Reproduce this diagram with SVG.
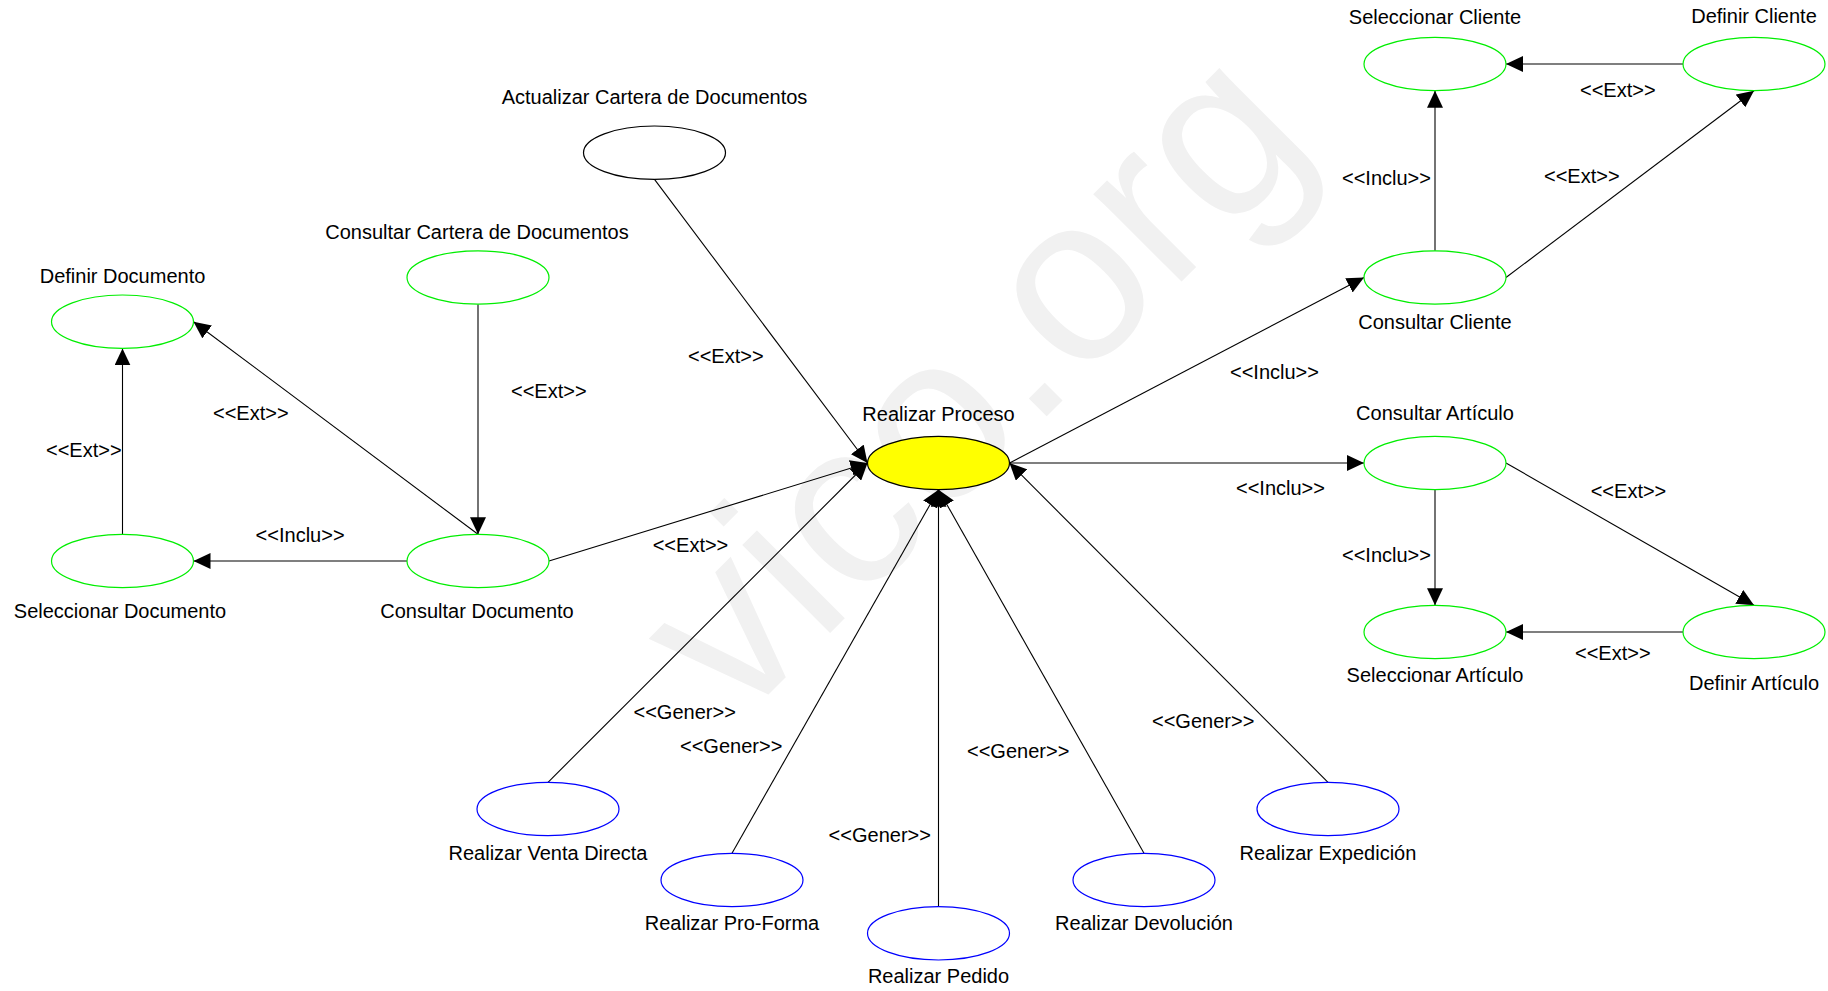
<svg xmlns="http://www.w3.org/2000/svg" width="1828" height="991" viewBox="0 0 1828 991">
<defs>
<marker id="arr" viewBox="0 0 17 16" refX="17" refY="8" markerWidth="17" markerHeight="16" markerUnits="userSpaceOnUse" orient="auto">
<path d="M0,0 L17,8 L0,16 z" fill="#000"/>
</marker>
<style>
text{font-family:"Liberation Sans",Arial,sans-serif;font-size:20px;fill:#000}
.n{text-anchor:middle}
.g{fill:#fff;stroke:#00ee00;stroke-width:1.2}
.b{fill:#fff;stroke:#0000ff;stroke-width:1.2}
.k{fill:#fff;stroke:#000;stroke-width:1.2}
.y{fill:#ffff00;stroke:#000;stroke-width:1.2}
#connectors line{stroke:#000;stroke-width:1.1}
.a{marker-end:url(#arr)}
.wm{font-size:235px;fill:#f1f1f1;font-family:"Liberation Sans",Arial,sans-serif}
</style>
</defs>
<rect width="1828" height="991" fill="#fff"/>
<text class="wm" transform="translate(736,727) rotate(-45)">vico.org</text>

<g id="connectors">
<line class="a" x1="1435" y1="250.8" x2="1435" y2="90.7"/>
<line class="a" x1="1683" y1="64" x2="1506" y2="64"/>
<line class="a" x1="1506" y1="277.5" x2="1754" y2="90.7"/>
<line class="a" x1="1009.5" y1="463" x2="1364" y2="277.5"/>
<line class="a" x1="1009.5" y1="463" x2="1364" y2="463"/>
<line class="a" x1="1435" y1="489.7" x2="1435" y2="605.3"/>
<line class="a" x1="1506" y1="463" x2="1754" y2="605.3"/>
<line class="a" x1="1683" y1="632" x2="1506" y2="632"/>
<line class="a" x1="478" y1="304.2" x2="478" y2="534.3"/>
<line class="a" x1="478" y1="534.3" x2="193.5" y2="321.7"/>
<line class="a" x1="122.5" y1="534.3" x2="122.5" y2="348.4"/>
<line class="a" x1="407" y1="561" x2="193.5" y2="561"/>
<line class="a" x1="549" y1="561" x2="867.5" y2="463"/>
<line class="a" x1="654.5" y1="179.4" x2="867.5" y2="463"/>
<line class="a" x1="548" y1="782.3" x2="867.5" y2="463"/>
<line class="a" x1="732" y1="853.3" x2="938.5" y2="489.7"/>
<line class="a" x1="938.5" y1="906.6" x2="938.5" y2="489.7"/>
<line class="a" x1="1144" y1="853.3" x2="938.5" y2="489.7"/>
<line class="a" x1="1328" y1="782.3" x2="1009.5" y2="463"/>
<text x="1342" y="185">&lt;&lt;Inclu&gt;&gt;</text>
<text x="1580" y="96.7">&lt;&lt;Ext&gt;&gt;</text>
<text x="1544" y="182.7">&lt;&lt;Ext&gt;&gt;</text>
<text x="1230" y="379.3">&lt;&lt;Inclu&gt;&gt;</text>
<text x="1236" y="495">&lt;&lt;Inclu&gt;&gt;</text>
<text x="1342" y="561.7">&lt;&lt;Inclu&gt;&gt;</text>
<text x="1590.7" y="498">&lt;&lt;Ext&gt;&gt;</text>
<text x="1575" y="660">&lt;&lt;Ext&gt;&gt;</text>
<text x="511" y="398">&lt;&lt;Ext&gt;&gt;</text>
<text x="213" y="420">&lt;&lt;Ext&gt;&gt;</text>
<text x="46" y="456.7">&lt;&lt;Ext&gt;&gt;</text>
<text x="255.6" y="541.7">&lt;&lt;Inclu&gt;&gt;</text>
<text x="652.7" y="551.7">&lt;&lt;Ext&gt;&gt;</text>
<text x="688" y="363.3">&lt;&lt;Ext&gt;&gt;</text>
<text x="633.5" y="719.3">&lt;&lt;Gener&gt;&gt;</text>
<text x="680" y="752.7">&lt;&lt;Gener&gt;&gt;</text>
<text x="828.6" y="841.7">&lt;&lt;Gener&gt;&gt;</text>
<text x="967" y="758">&lt;&lt;Gener&gt;&gt;</text>
<text x="1152" y="727.7">&lt;&lt;Gener&gt;&gt;</text>
</g>

<g id="seleccionar-cliente"><ellipse class="g" cx="1435" cy="64" rx="71" ry="26.7"/><text class="n" x="1435" y="23.5">Seleccionar Cliente</text></g>
<g id="definir-cliente"><ellipse class="g" cx="1754" cy="64" rx="71" ry="26.7"/><text class="n" x="1754" y="23">Definir Cliente</text></g>
<g id="consultar-cliente"><ellipse class="g" cx="1435" cy="277.5" rx="71" ry="26.7"/><text class="n" x="1435" y="328.5">Consultar Cliente</text></g>
<g id="consultar-articulo"><ellipse class="g" cx="1435" cy="463" rx="71" ry="26.7"/><text class="n" x="1435" y="420">Consultar Artículo</text></g>
<g id="seleccionar-articulo"><ellipse class="g" cx="1435" cy="632" rx="71" ry="26.7"/><text class="n" x="1435" y="681.5">Seleccionar Artículo</text></g>
<g id="definir-articulo"><ellipse class="g" cx="1754" cy="632" rx="71" ry="26.7"/><text class="n" x="1754" y="689.5">Definir Artículo</text></g>
<g id="realizar-proceso"><ellipse class="y" cx="938.5" cy="463" rx="71" ry="26.7"/><text class="n" x="938.5" y="420.5">Realizar Proceso</text></g>
<g id="actualizar-cartera"><ellipse class="k" cx="654.5" cy="152.7" rx="71" ry="26.7"/><text class="n" x="654.5" y="103.5">Actualizar Cartera de Documentos</text></g>
<g id="consultar-cartera"><ellipse class="g" cx="478" cy="277.5" rx="71" ry="26.7"/><text class="n" x="477" y="239.3">Consultar Cartera de Documentos</text></g>
<g id="definir-documento"><ellipse class="g" cx="122.5" cy="321.7" rx="71" ry="26.7"/><text class="n" x="122.5" y="283.3">Definir Documento</text></g>
<g id="seleccionar-documento"><ellipse class="g" cx="122.5" cy="561" rx="71" ry="26.7"/><text class="n" x="120" y="618">Seleccionar Documento</text></g>
<g id="consultar-documento"><ellipse class="g" cx="478" cy="561" rx="71" ry="26.7"/><text class="n" x="477" y="618.3">Consultar Documento</text></g>
<g id="realizar-venta-directa"><ellipse class="b" cx="548" cy="809" rx="71" ry="26.7"/><text class="n" x="548" y="860">Realizar Venta Directa</text></g>
<g id="realizar-pro-forma"><ellipse class="b" cx="732" cy="880" rx="71" ry="26.7"/><text class="n" x="732" y="930">Realizar Pro-Forma</text></g>
<g id="realizar-pedido"><ellipse class="b" cx="938.5" cy="933.3" rx="71" ry="26.7"/><text class="n" x="938.5" y="983.3">Realizar Pedido</text></g>
<g id="realizar-devolucion"><ellipse class="b" cx="1144" cy="880" rx="71" ry="26.7"/><text class="n" x="1144" y="930">Realizar Devolución</text></g>
<g id="realizar-expedicion"><ellipse class="b" cx="1328" cy="809" rx="71" ry="26.7"/><text class="n" x="1328" y="860">Realizar Expedición</text></g>
</svg>
